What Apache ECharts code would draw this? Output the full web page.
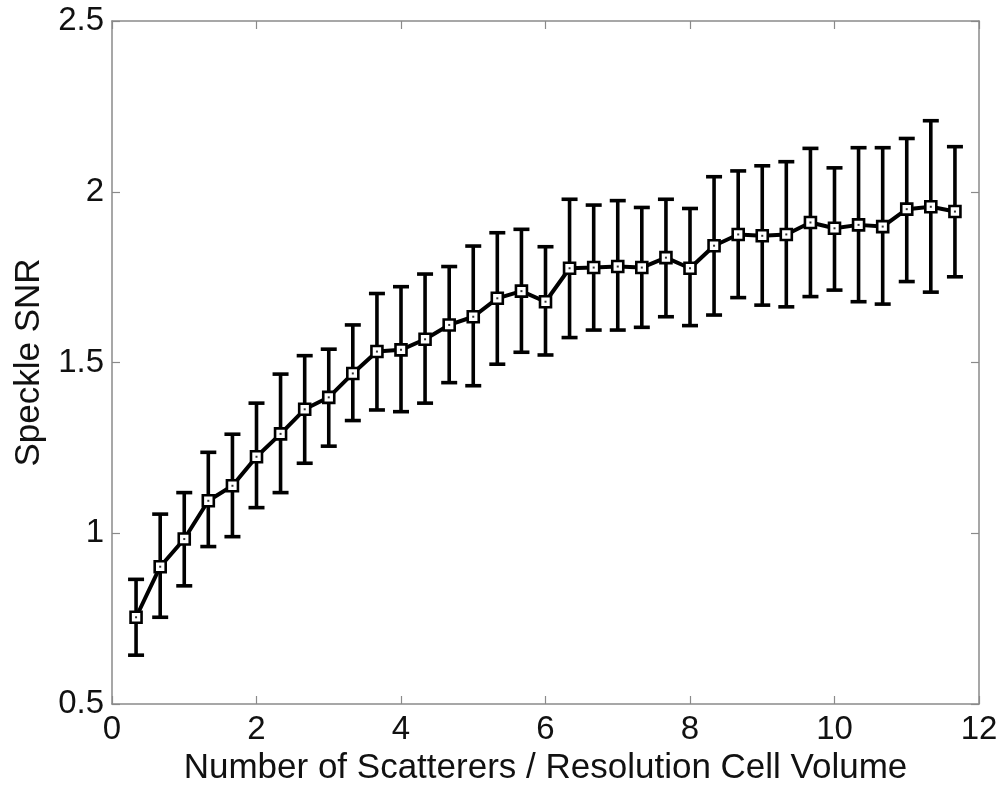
<!DOCTYPE html>
<html>
<head>
<meta charset="utf-8">
<script src="https://cdn.jsdelivr.net/npm/echarts@6/dist/echarts.min.js"></script>
<style>
  html, body { margin: 0; padding: 0; background: #fff; }
  #chart { width: 1003px; height: 785px; }
</style>
</head>
<body>
<div id="chart"></div>
<script>
// scatterer density (x), mean speckle SNR and error bar ends
const density = [
  0.333, 0.667, 1.0, 1.333, 1.667, 2.0, 2.333, 2.667, 3.0, 3.333,
  3.667, 4.0, 4.333, 4.667, 5.0, 5.333, 5.667, 6.0, 6.333, 6.667,
  7.0, 7.333, 7.667, 8.0, 8.333, 8.667, 9.0, 9.333, 9.667, 10.0,
  10.333, 10.667, 11.0, 11.333, 11.667
];
const snrMean = [
  0.754, 0.902, 0.983, 1.095, 1.139, 1.224, 1.291, 1.363, 1.398, 1.468,
  1.532, 1.537, 1.568, 1.610, 1.634, 1.688, 1.709, 1.678, 1.776, 1.778,
  1.781, 1.778, 1.807, 1.776, 1.842, 1.875, 1.871, 1.875, 1.910, 1.893,
  1.903, 1.898, 1.949, 1.956, 1.942
];
const snrUpper = [
  0.865, 1.056, 1.119, 1.237, 1.290, 1.381, 1.466, 1.520, 1.539, 1.610,
  1.702, 1.722, 1.759, 1.781, 1.841, 1.880, 1.890, 1.839, 1.978, 1.961,
  1.974, 1.954, 1.978, 1.951, 2.044, 2.061, 2.076, 2.088, 2.127, 2.070,
  2.129, 2.129, 2.156, 2.208, 2.132
];
const snrLower = [
  0.643, 0.754, 0.846, 0.961, 0.990, 1.075, 1.119, 1.205, 1.255, 1.330,
  1.361, 1.356, 1.381, 1.441, 1.432, 1.495, 1.530, 1.522, 1.573, 1.595,
  1.595, 1.603, 1.634, 1.608, 1.639, 1.690, 1.668, 1.663, 1.693, 1.712,
  1.678, 1.671, 1.737, 1.706, 1.751
];

const FONT = "'Liberation Sans', Arial, Helvetica, sans-serif";
const AXIS_GRAY = '#8a8a8a';

const meanData = density.map((x, i) => [x, snrMean[i]]);
const barData = density.map((x, i) => [x, snrLower[i], snrUpper[i]]);

function renderErrorBar(params, api) {
  const x = api.value(0);
  const lo = api.coord([x, api.value(1)]);
  const hi = api.coord([x, api.value(2)]);
  const half = 8;
  const style = { stroke: '#000', lineWidth: 3.6, fill: null };
  return {
    type: 'group',
    children: [
      { type: 'line', shape: { x1: hi[0], y1: hi[1], x2: lo[0], y2: lo[1] }, style },
      { type: 'line', shape: { x1: hi[0] - half, y1: hi[1], x2: hi[0] + half, y2: hi[1] }, style },
      { type: 'line', shape: { x1: lo[0] - half, y1: lo[1], x2: lo[0] + half, y2: lo[1] }, style }
    ]
  };
}

const boxAxis = {
  axisLine: { show: true, onZero: false, lineStyle: { color: AXIS_GRAY, width: 1.5 } },
  axisTick: { show: true, inside: true, length: 8, lineStyle: { color: AXIS_GRAY, width: 1.2 } },
  splitLine: { show: false }
};

const chart = echarts.init(document.getElementById('chart'), null, { renderer: 'canvas' });
chart.setOption({
  animation: false,
  backgroundColor: '#fff',
  textStyle: { fontFamily: FONT },
  grid: { left: 112, right: 24, top: 21, bottom: 81, containLabel: false, outerBoundsMode: 'none' },
  xAxis: [
    {
      type: 'value', min: 0, max: 12, interval: 2, position: 'bottom',
      name: 'Number of Scatterers / Resolution Cell Volume',
      nameLocation: 'middle', nameGap: 43,
      nameTextStyle: { fontSize: 35, color: '#111', fontFamily: FONT },
      axisLabel: { fontSize: 33, color: '#111', margin: 9, fontFamily: FONT },
      ...boxAxis
    },
    {
      type: 'value', min: 0, max: 12, interval: 2, position: 'top',
      axisLabel: { show: false },
      ...boxAxis
    }
  ],
  yAxis: [
    {
      type: 'value', min: 0.5, max: 2.5, interval: 0.5, position: 'left',
      name: 'Speckle SNR',
      nameLocation: 'middle', nameGap: 62, nameRotate: 90,
      nameTextStyle: { fontSize: 35, color: '#111', fontFamily: FONT },
      axisLabel: { fontSize: 33, color: '#111', margin: 8, fontFamily: FONT },
      ...boxAxis
    },
    {
      type: 'value', min: 0.5, max: 2.5, interval: 0.5, position: 'right',
      axisLabel: { show: false },
      ...boxAxis
    }
  ],
  series: [
    {
      name: 'error',
      type: 'custom',
      renderItem: renderErrorBar,
      data: barData,
      encode: { x: 0, y: [1, 2] },
      z: 2
    },
    {
      name: 'SNR',
      type: 'line',
      data: meanData,
      symbol: 'rect',
      symbolSize: 11,
      showSymbol: true,
      lineStyle: { color: '#000', width: 4 },
      itemStyle: { color: '#fff', borderColor: '#000', borderWidth: 2.6 },
      z: 3
    },
    {
      name: 'dot',
      type: 'scatter',
      data: meanData,
      symbol: 'rect',
      symbolSize: 2,
      itemStyle: { color: '#000' },
      z: 4
    }
  ]
});
</script>
</body>
</html>
